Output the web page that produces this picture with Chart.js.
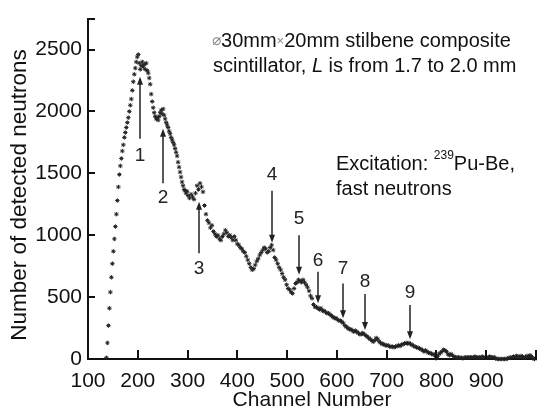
<!DOCTYPE html>
<html>
<head>
<meta charset="utf-8">
<script src="https://cdn.jsdelivr.net/npm/chart.js@4"></script>
<style>
  html, body { margin: 0; padding: 0; background: #fff; }
</style>
</head>
<body>
<canvas id="myChart" width="546" height="412"></canvas>
<script>

// spectrum (channel -> counts)
const channels = [
  137, 139, 141, 143, 145, 147, 149, 151, 153, 155, 157, 159, 161, 163, 165, 167, 169, 171, 173, 175,
  177, 179, 181, 183, 185, 187, 189, 191, 193, 195, 197, 199, 201, 203, 205, 207, 209, 211, 213, 215,
  217, 219, 221, 223, 225, 227, 229, 231, 233, 235, 237, 239, 241, 243, 245, 247, 249, 251, 253, 255,
  257, 259, 261, 263, 265, 267, 269, 271, 273, 275, 277, 279, 281, 283, 285, 287, 289, 291, 293, 295,
  297, 299,
  301, 304, 307, 310, 313, 316, 319, 322, 325, 328, 331, 334, 337, 340, 343, 346, 349, 352, 355, 358,
  361, 364, 367, 370, 373, 376, 379, 382, 385, 388, 391, 394, 397, 400, 403, 406, 409, 412, 415, 418,
  421, 424, 427, 430, 433, 436, 439, 442, 445, 448, 451, 454, 457, 460, 463, 466, 469, 472, 475, 478,
  481, 484, 487, 490, 493, 496, 499, 502, 505, 508, 511, 514, 517, 520, 523, 526, 529, 532, 535, 538,
  541, 544, 547, 550, 553, 556, 559, 562, 565, 568, 571, 574, 577, 580, 583, 586, 589, 592, 595, 598,
  601, 604, 607, 610, 613, 616, 619, 622, 625, 628, 631, 634, 637, 640, 643, 646, 649, 652, 655, 658,
  661, 664, 667, 670, 673, 676, 679, 682, 685, 688, 691, 694, 697, 700, 703, 706, 709, 712, 715, 718,
  721, 724, 727, 730, 733, 736, 739, 742, 745, 748, 751, 754, 757, 760, 763, 766, 769, 772, 775, 778,
  781, 784, 787, 790, 793, 796, 799, 802, 805, 808, 811, 814, 817, 820, 823, 826, 829, 832, 835, 838,
  841, 844, 847, 850, 853, 856, 859, 862, 865, 868, 871, 874, 877, 880, 883, 886, 889, 892, 895, 898,
  901, 904, 907, 910, 913, 916, 919, 922, 925, 928, 931, 934, 937, 940, 943, 946, 949, 952, 955, 958,
  961, 964, 967, 970, 973, 976, 979, 982, 985, 988, 991, 994, 997
];

const counts = [
  10, 130, 270, 410, 540, 660, 770, 870, 970, 1070, 1170, 1280, 1390, 1490, 1560, 1620, 1680, 1730, 1790, 1830,
  1870, 1910, 1950, 2000, 2050, 2100, 2170, 2240, 2300, 2350, 2400, 2440, 2460, 2390, 2340, 2370, 2400, 2360, 2380, 2340,
  2390, 2330, 2310, 2270, 2220, 2140, 2080, 2030, 1990, 1960, 1940, 1950, 1930, 1960, 1990, 2010, 1980, 2020, 1970, 1940,
  1910, 1890, 1870, 1840, 1820, 1790, 1770, 1750, 1730, 1700, 1670, 1640, 1590, 1550, 1510, 1470, 1430, 1400, 1370, 1360,
  1340, 1355,
  1320, 1300, 1330, 1310, 1290, 1340, 1400, 1370, 1420, 1390, 1350, 1240, 1170, 1120, 1100, 1060, 1080, 1030, 1010, 990,
  1000, 970, 960, 990, 1010, 1040, 1020, 990, 1000, 980, 960, 990, 960, 930, 920, 900, 890, 870, 860, 830,
  800, 770, 740, 720, 730, 760, 790, 810, 840, 860, 880, 900, 890, 860, 870, 900, 920, 880, 820, 800,
  770, 740, 720, 690, 660, 640, 600, 570, 560, 540, 530, 570, 610, 620, 640, 630, 620, 640, 620, 600,
  580, 550, 510, 490, 440, 420, 420, 410, 400, 410, 390, 390, 380, 370, 370, 360, 350, 340, 330, 330,
  320, 310, 310, 300, 290, 270, 260, 250, 240, 240, 230, 220, 230, 220, 210, 200, 200, 210, 200, 190,
  180, 170, 160, 150, 140, 150, 170, 160, 140, 130, 120, 120, 110, 110, 110, 100, 100, 100, 95, 100,
  105, 110, 105, 115, 120, 125, 130, 125, 130, 120, 115, 105, 100, 95, 90, 85, 80, 70, 60, 70,
  60, 50, 50, 40, 40, 30, 5, 20, 40, 50, 60, 75, 70, 60, 40, 30, 40, 30, 20, 15,
  10, 15, 10, 10, 5, 10, 15, 10, 15, 12, 15, 10, 20, 15, 10, 15, 10, 20, 15, 10,
  10, 15, 20, 15, 10, 15, 5, 0, 0, 0, 0, 0, 0, 0, 5, 10, 10, 15, 20, 15,
  25, 20, 15, 25, 20, 10, 15, 25, 20, 30, 20, 5, 0
];

// numbered peaks: arrow from tail to tip, label above/below
const peakNames    = ['1', '2', '3', '4', '5', '6', '7', '8', '9'];
const peakChannels = [204, 250, 323, 470, 524, 562, 613, 656, 747];
const arrowTail    = [1780, 1420, 855, 1360, 1000, 705, 610, 525, 437];
const arrowTip     = [2280, 1860, 1270, 940, 680, 450, 330, 235, 160];
const labelAt      = [1640, 1300, 730, 1490, 1130, 795, 725, 620, 533];

// axis ticks (last one of each is unlabelled)
const xTickValues = [100, 200, 300, 400, 500, 600, 700, 800, 900, 1000];
const yTickValues = [0, 500, 1000, 1500, 2000, 2500, 2750];

const points = channels.map((c, i) => ({ x: c, y: counts[i] }));

const FONT = '"Liberation Sans", Arial, sans-serif';
const INK = '#111';

function lastBlank(list) {
  return v => (v === list[list.length - 1] ? '' : String(v));
}

// ticks pointing into the plot
const innerTicks = {
  id: 'innerTicks',
  afterDraw(chart) {
    const { ctx, chartArea, scales } = chart;
    ctx.save();
    ctx.strokeStyle = INK;
    ctx.lineWidth = 2;
    xTickValues.forEach(v => {
      const px = Math.round(scales.x.getPixelForValue(v));
      ctx.beginPath();
      ctx.moveTo(px, chartArea.bottom);
      ctx.lineTo(px, chartArea.bottom - 9);
      ctx.stroke();
    });
    yTickValues.forEach(v => {
      const py = Math.round(scales.y.getPixelForValue(v));
      ctx.beginPath();
      ctx.moveTo(chartArea.left, py);
      ctx.lineTo(chartArea.left + 7, py);
      ctx.stroke();
    });
    ctx.restore();
  }
};

function drawRuns(ctx, x, y, runs) {
  runs.forEach(r => {
    ctx.font = r.font;
    ctx.fillStyle = r.color || INK;
    ctx.fillText(r.text, x, y + (r.dy || 0));
    x += ctx.measureText(r.text).width;
  });
}

const notes = {
  id: 'notes',
  afterDraw(chart) {
    const { ctx, scales } = chart;
    const sx = scales.x, sy = scales.y;
    ctx.save();

    // arrows + numbers
    ctx.strokeStyle = '#222';
    ctx.fillStyle = '#222';
    ctx.lineWidth = 1.5;
    peakNames.forEach((name, i) => {
      const px = Math.round(sx.getPixelForValue(peakChannels[i]));
      const y0 = sy.getPixelForValue(arrowTail[i]);
      const y1 = sy.getPixelForValue(arrowTip[i]);
      const dir = y1 > y0 ? 1 : -1;
      ctx.beginPath();
      ctx.moveTo(px, y0);
      ctx.lineTo(px, y1 - dir * 6);
      ctx.stroke();
      ctx.beginPath();
      ctx.moveTo(px, y1);
      ctx.lineTo(px - 3, y1 - dir * 8);
      ctx.lineTo(px + 3, y1 - dir * 8);
      ctx.closePath();
      ctx.fill();

      ctx.font = '19px ' + FONT;
      ctx.textAlign = 'center';
      ctx.textBaseline = 'middle';
      ctx.fillText(name, px, sy.getPixelForValue(labelAt[i]));
    });

    // y axis title
    ctx.save();
    ctx.translate(20, 195);
    ctx.rotate(-Math.PI / 2);
    ctx.font = '22.5px ' + FONT;
    ctx.fillStyle = INK;
    ctx.fillText('Number of detected neutrons', 0, 0);
    ctx.restore();

    ctx.textAlign = 'left';
    ctx.textBaseline = 'middle';
    const f20 = '20px ' + FONT;
    drawRuns(ctx, 212, 41, [
      { text: '\u2300', font: '15px "DejaVu Sans"', color: '#888' },
      { text: '30mm', font: f20 },
      { text: '\u00d7', font: '13px ' + FONT, color: '#888' },
      { text: '20mm stilbene composite', font: f20 }
    ]);
    drawRuns(ctx, 213, 66, [
      { text: 'scintillator, ', font: f20 },
      { text: 'L', font: 'italic 20px ' + FONT },
      { text: ' is from 1.7 to 2.0 mm', font: f20 }
    ]);
    drawRuns(ctx, 336, 164, [
      { text: 'Excitation: ', font: f20 },
      { text: '239', font: '12px ' + FONT, dy: -8 },
      { text: 'Pu-Be,', font: f20 }
    ]);
    drawRuns(ctx, 336, 189, [
      { text: 'fast neutrons', font: f20 }
    ]);
    ctx.restore();
  }
};

const ctx = document.querySelector('#myChart');

new Chart(ctx, {
  type: 'scatter',
  data: {
    datasets: [{
      data: points,
      pointStyle: 'star',
      pointRadius: 2.2,
      borderWidth: 1,
      borderColor: '#222',
      backgroundColor: '#222',
      showLine: false,
      clip: false
    }]
  },
  options: {
    responsive: false,
    animation: false,
    devicePixelRatio: 1,
    layout: { padding: { top: 13, right: 1, left: 0, bottom: 0 } },
    plugins: { legend: { display: false }, tooltip: { enabled: false } },
    scales: {
      x: {
        type: 'linear',
        min: xTickValues[0],
        max: xTickValues[xTickValues.length - 1],
        afterFit: s => { s.height = 53; },
        afterBuildTicks: s => { s.ticks = xTickValues.map(v => ({ value: v })); },
        grid: { display: false, drawTicks: false },
        border: { display: true, color: INK, width: 2 },
        ticks: {
          padding: 10,
          color: INK,
          maxRotation: 0,
          autoSkip: false,
          font: { family: FONT, size: 21 },
          callback: lastBlank(xTickValues)
        },
        title: {
          display: true,
          text: 'Channel Number',
          color: INK,
          font: { family: FONT, size: 21, lineHeight: 1 },
          padding: { top: 0, bottom: 1 }
        }
      },
      y: {
        min: yTickValues[0],
        max: yTickValues[yTickValues.length - 1],
        afterFit: s => { s.width = 88; },
        afterBuildTicks: s => { s.ticks = yTickValues.map(v => ({ value: v })); },
        grid: { display: false, drawTicks: false },
        border: { display: true, color: INK, width: 2 },
        ticks: {
          padding: 6,
          color: INK,
          autoSkip: false,
          font: { family: FONT, size: 21 },
          callback: lastBlank(yTickValues)
        },
        title: { display: false }
      }
    }
  },
  plugins: [innerTicks, notes]
});
</script>
</body>
</html>
